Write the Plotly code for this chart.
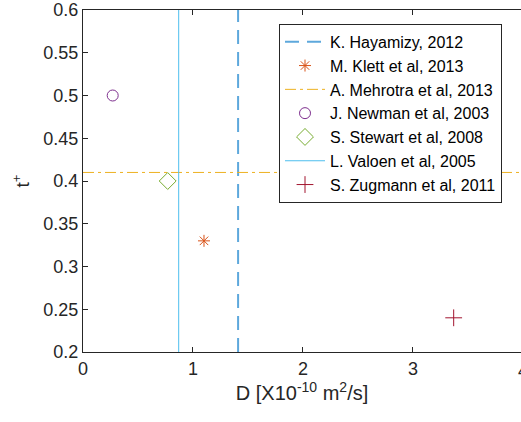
import plotly.graph_objects as go

# ---- data ----
hayamizy_D = 1.41          # vertical dashed line
valoen_D = 0.87            # vertical solid line
mehrotra_t = 0.41          # horizontal dash-dot line
klett = (1.10, 0.33)
newman = (0.27, 0.50)
stewart = (0.77, 0.40)
zugmann = (3.37, 0.24)

y_lo, y_hi = 0.2, 0.6
x_lo, x_hi = 0.0, 3.982
x_line_span = [0.0, 4.0]

ytick_vals = [0.2, 0.25, 0.3, 0.35, 0.4, 0.45, 0.5, 0.55, 0.6]
ytick_text = ["0.2", "0.25", "0.3", "0.35", "0.4", "0.45", "0.5", "0.55", "0.6"]
xtick_vals = [0, 1, 2, 3]
xtick_text = ["0", "1", "2", "3"]

C_BLUE = "#5DA8DC"
C_ORANGE = "#D95319"
C_YELLOW = "#EDB120"
C_PURPLE = "#7E2F8E"
C_GREEN = "#77AC30"
C_CYAN = "#4DBEEE"
C_RED = "#A2142F"
AX = "#262626"
FONT = "Liberation Sans, Arial, sans-serif"

fig = go.Figure()
fig.add_trace(go.Scatter(x=[hayamizy_D, hayamizy_D], y=[y_lo, y_hi], mode="lines",
                         name="K. Hayamizy, 2012",
                         line=dict(color=C_BLUE, width=2, dash="14px,8px")))
fig.add_trace(go.Scatter(x=[klett[0]], y=[klett[1]], mode="markers",
                         name="M. Klett et al, 2013",
                         marker=dict(symbol="asterisk-open", size=10, color=C_ORANGE,
                                     line=dict(color=C_ORANGE, width=1))))
fig.add_trace(go.Scatter(x=x_line_span, y=[mehrotra_t, mehrotra_t], mode="lines",
                         name="A. Mehrotra et al, 2013",
                         line=dict(color=C_YELLOW, width=1, dash="11px,4px,3px,4px")))
fig.add_trace(go.Scatter(x=[newman[0]], y=[newman[1]], mode="markers",
                         name="J. Newman et al, 2003",
                         marker=dict(symbol="circle-open", size=11, color=C_PURPLE,
                                     line=dict(color=C_PURPLE, width=1))))
fig.add_trace(go.Scatter(x=[stewart[0]], y=[stewart[1]], mode="markers",
                         name="S. Stewart et al, 2008",
                         marker=dict(symbol="diamond-open", size=13, color=C_GREEN,
                                     line=dict(color=C_GREEN, width=1))))
fig.add_trace(go.Scatter(x=[valoen_D, valoen_D], y=[y_lo, y_hi], mode="lines",
                         name="L. Valoen et al, 2005",
                         line=dict(color=C_CYAN, width=1)))
fig.add_trace(go.Scatter(x=[zugmann[0]], y=[zugmann[1]], mode="markers",
                         name="S. Zugmann et al, 2011",
                         marker=dict(symbol="cross-thin-open", size=12, color=C_RED,
                                     line=dict(color=C_RED, width=1))))

fig.update_layout(
    width=521, height=422,
    margin=dict(l=83, r=0, t=8, b=70),
    paper_bgcolor="white", plot_bgcolor="white",
    font=dict(family=FONT, color=AX, size=17),
    showlegend=True,
    legend=dict(x=0.4475, y=0.9595, xanchor="left", yanchor="top",
                bgcolor="white", bordercolor=AX, borderwidth=1,
                font=dict(size=16, color="black"), itemwidth=40),
    xaxis=dict(range=[x_lo, x_hi], tickvals=xtick_vals, ticktext=xtick_text,
               ticks="inside", ticklen=5, tickcolor=AX, showgrid=False, zeroline=False,
               showline=True, linecolor=AX, linewidth=1, mirror="ticks",
               tickfont=dict(size=18, color=AX), ticklabeloverflow="allow",
               title=dict(text="D [X10<sup>-10</sup> m<sup>2</sup>/s]",
                          font=dict(size=20, color=AX), standoff=4)),
    yaxis=dict(range=[y_lo, y_hi], tickvals=ytick_vals, ticktext=ytick_text,
               ticks="inside", ticklen=5, tickcolor=AX, showgrid=False, zeroline=False,
               showline=True, linecolor=AX, linewidth=1, mirror=False,
               tickfont=dict(size=18, color=AX), ticklabeloverflow="allow",
               title=dict(text="t<sup>+</sup>", font=dict(size=19, color=AX), standoff=8)),
    yaxis2=dict(range=[y_lo, y_hi], tickvals=ytick_vals, overlaying="y", side="right",
                ticks="inside", ticklen=5, tickcolor=AX, showticklabels=False,
                showgrid=False, zeroline=False, showline=False),
)

fig.add_annotation(text="4", xref="paper", yref="paper", x=1.0046, y=-0.02,
                   xanchor="center", yanchor="top", showarrow=False,
                   font=dict(size=18, color=AX, family=FONT))

fig.write_html("out.html")
